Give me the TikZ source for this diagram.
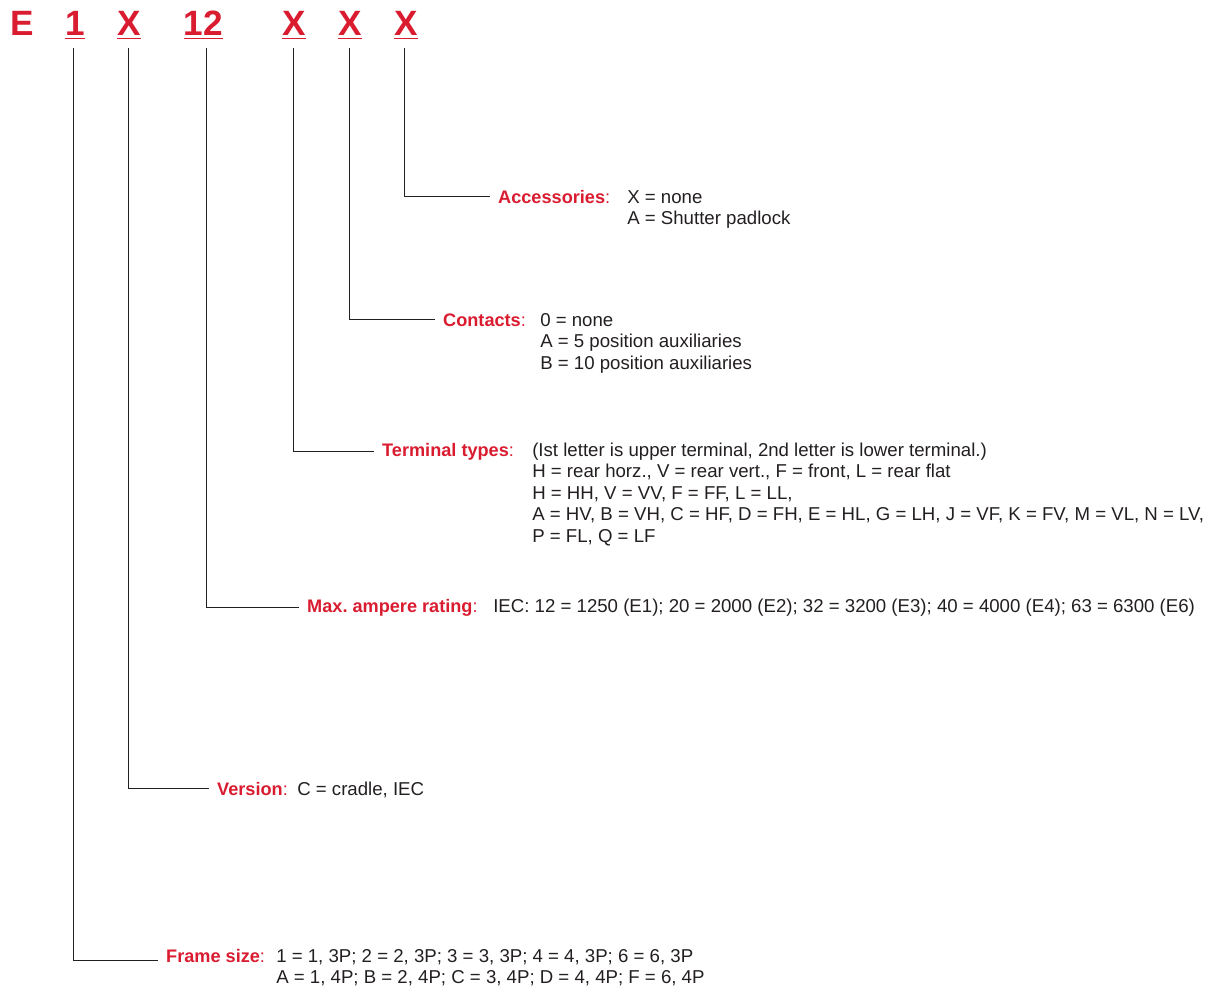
\documentclass[tikz,border=0pt]{standalone}
\usepackage{fontspec}
\setmainfont{Liberation Sans}
\usepackage{tikz}
\usetikzlibrary{calc}
\definecolor{codered}{RGB}{218,28,48}
\definecolor{textgray}{RGB}{35,31,32}

\begin{document}
\begin{tikzpicture}[x=0.025cm, y=-0.025cm,
	digit/.style={font=\fontsize{25}{30}\selectfont\bfseries, text=codered, inner sep=0pt, anchor=base},
	uline/.style={draw=codered, line width=1.3pt},
	lbl/.style={font=\fontsize{12.9}{15.2}\selectfont, text=codered, inner xsep=6pt, inner ysep=0pt, anchor=base west},
	desc/.style={font=\fontsize{13.25}{15.3}\selectfont, text=textgray, inner sep=0pt, anchor=base west},
	leader/.style={draw=textgray, line width=0.6pt}]
		\useasboundingbox (0,0) rectangle (1207,987);
		% Code du type
		\node[digit] (e) at (22,35) {E};
		\node[digit] (frm) at (75,35) {1};
		\node[digit] (ver) at (129,35) {X};
		\node[digit] (amp) at (203.5,35) {12};
		\node[digit] (term) at (294,35) {X};
		\node[digit] (cont) at (350,35) {X};
		\node[digit] (acc) at (406,35) {X};
		% Soulignements
		\draw[uline] ([yshift=-2.5pt]frm.base west) -- ([yshift=-2.5pt]frm.base east);
		\draw[uline] ([yshift=-2.5pt]ver.base west) -- ([yshift=-2.5pt]ver.base east);
		\draw[uline] ([yshift=-2.5pt]amp.base west) -- ([yshift=-2.5pt]amp.base east);
		\draw[uline] ([yshift=-2.5pt]term.base west) -- ([yshift=-2.5pt]term.base east);
		\draw[uline] ([yshift=-2.5pt]cont.base west) -- ([yshift=-2.5pt]cont.base east);
		\draw[uline] ([yshift=-2.5pt]acc.base west) -- ([yshift=-2.5pt]acc.base east);
		% Accessoires
		\node[lbl] (acclbl) at (489.5,203) {\textbf{Accessories}:};
		\node[desc] (accdesc) at (627,203) {\begin{tabular}[t]{@{}l@{}}X = none\\A = Shutter padlock\end{tabular}};
		% Contacts
		\node[lbl] (contlbl) at (434.5,326) {\textbf{Contacts}:};
		\node[desc] (contdesc) at (540,326) {\begin{tabular}[t]{@{}l@{}}0 = none\\A = 5 position auxiliaries\\B = 10 position auxiliaries\end{tabular}};
		% Bornes
		\node[lbl] (termlbl) at (373.5,456) {\textbf{Terminal types}:};
		\node[desc] (termdesc) at (532,456) {\begin{tabular}[t]{@{}l@{}}(Ist letter is upper terminal, 2nd letter is lower terminal.)\\H = rear horz., V = rear vert., F = front, L = rear flat\\H = HH, V = VV, F = FF, L = LL,\\A = HV, B = VH, C = HF, D = FH, E = HL, G = LH, J = VF, K = FV, M = VL, N = LV,\\P = FL, Q = LF\end{tabular}};
		% Calibre
		\node[lbl] (amplbl) at (298.5,612) {\textbf{Max.\ ampere rating}:};
		\node[desc] (ampdesc) at (493,612) {IEC: 12 = 1250 (E1); 20 = 2000 (E2); 32 = 3200 (E3); 40 = 4000 (E4); 63 = 6300 (E6)};
		% Version
		\node[lbl] (verlbl) at (208.5,795) {\textbf{Version}:};
		\node[desc] (verdesc) at (297,795) {C = cradle, IEC};
		% Taille
		\node[lbl] (frmlbl) at (157.5,962) {\textbf{Frame size}:};
		\node[desc] (frmdesc) at (276,962) {\begin{tabular}[t]{@{}l@{}}1 = 1, 3P; 2 = 2, 3P; 3 = 3, 3P; 4 = 4, 3P; 6 = 6, 3P\\A = 1, 4P; B = 2, 4P; C = 3, 4P; D = 4, 4P; F = 6, 4P\end{tabular}};
		% Traits de rappel
		\draw[leader] ([xshift=-1.2pt,yshift=-9pt]acc.base) |- (acclbl.west);
		\draw[leader] ([xshift=-0.7pt,yshift=-9pt]cont.base) |- (contlbl.west);
		\draw[leader] ([xshift=-0.7pt,yshift=-9pt]term.base) |- (termlbl.west);
		\draw[leader] ([xshift=1.8pt,yshift=-9pt]amp.base) |- (amplbl.west);
		\draw[leader] ([xshift=-0.7pt,yshift=-9pt]ver.base) |- (verlbl.west);
		\draw[leader] ([xshift=-1.4pt,yshift=-9pt]frm.base) |- ([yshift=1pt]frmlbl.base west);
\end{tikzpicture}
\end{document}
